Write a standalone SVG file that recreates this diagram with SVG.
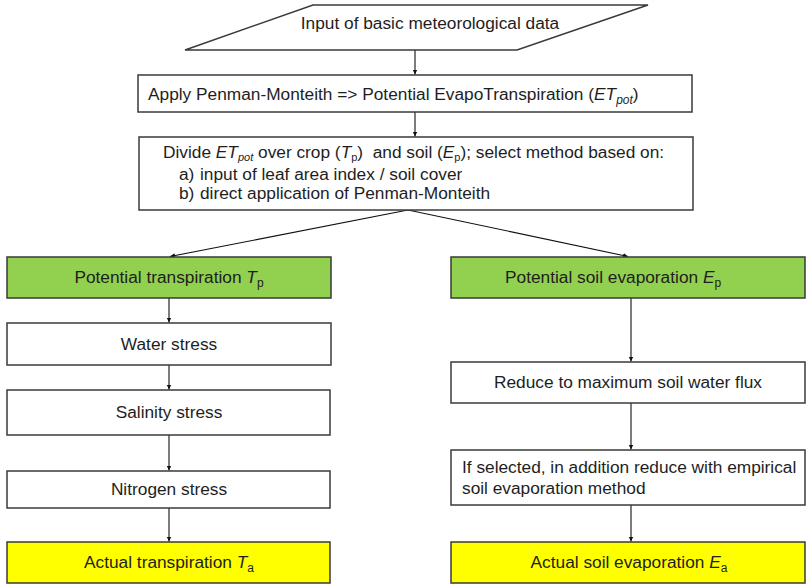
<svg xmlns="http://www.w3.org/2000/svg" width="806" height="585" viewBox="0 0 806 585">
<style>
.box{fill:#fff;stroke:#3a3a3a;stroke-width:1.5}
.green{fill:#92D050;stroke:#3a3a3a;stroke-width:1.5}
.yellow{fill:#FFFF00;stroke:#3a3a3a;stroke-width:1.5}
text{font-family:"Liberation Sans",Arial,sans-serif;font-size:17.3px;fill:#1e1e1e}
.c{text-anchor:middle}
.it{font-style:italic}
.sub{font-size:12px}
.sub2{font-size:11px}
.conn{stroke:#111;stroke-width:1.1;fill:none;marker-end:url(#ah)}
</style>
<defs>
<marker id="ah" markerWidth="6" markerHeight="6" refX="5" refY="3" orient="auto" markerUnits="userSpaceOnUse">
<path d="M0,0.6 L5,3 L0,5.4 Z" fill="#111"/>
</marker>
</defs>
<g id="connectors">
<line class="conn" x1="415" y1="50" x2="415" y2="74.5"/>
<line class="conn" x1="415" y1="112" x2="415" y2="136.5"/>
<line class="conn" x1="408" y1="210" x2="170" y2="256.5"/>
<line class="conn" x1="408" y1="210" x2="628" y2="256.5"/>
<line class="conn" x1="169" y1="298" x2="169" y2="322.5"/>
<line class="conn" x1="169" y1="365" x2="169" y2="389.5"/>
<line class="conn" x1="169" y1="435" x2="169" y2="470.5"/>
<line class="conn" x1="169" y1="508" x2="169" y2="541.5"/>
<line class="conn" x1="631" y1="298" x2="631" y2="361.5"/>
<line class="conn" x1="631" y1="403" x2="631" y2="449.5"/>
<line class="conn" x1="631" y1="505" x2="631" y2="541.5"/>
</g>
<g id="input">
<polygon class="box" points="185,50 313,5 648,5 517,50"/>
<text class="c" x="430" y="29">Input of basic meteorological data</text>
</g>
<g id="penman">
<rect class="box" x="138" y="75" width="554" height="37"/>
<text x="148" y="100">Apply Penman-Monteith =&gt; Potential EvapoTranspiration (<tspan class="it">ET</tspan><tspan class="it sub" dy="4">pot</tspan><tspan dy="-4">)</tspan></text>
</g>
<g id="divide">
<rect class="box" x="139" y="137" width="554" height="73"/>
<text x="163" y="158">Divide <tspan class="it">ET</tspan><tspan class="it sub2" dy="3">pot</tspan><tspan dy="-3"> over crop (</tspan><tspan class="it">T</tspan><tspan class="sub2" dy="3">p</tspan><tspan dy="-3" xml:space="preserve">)  and soil (</tspan><tspan class="it">E</tspan><tspan class="sub2" dy="3">p</tspan><tspan dy="-3">); select method based on:</tspan></text>
<text x="179" y="180">a)</text>
<text x="200" y="180">input of leaf area index / soil cover</text>
<text x="179" y="199">b)</text>
<text x="200" y="199">direct application of Penman-Monteith</text>
</g>
<g id="potTransp">
<rect class="green" x="7" y="257" width="324" height="41"/>
<text class="c" x="169" y="283">Potential transpiration <tspan class="it">T</tspan><tspan class="sub" dy="4">p</tspan></text>
</g>
<g id="water">
<rect class="box" x="7" y="323" width="324" height="42"/>
<text class="c" x="169" y="350">Water stress</text>
</g>
<g id="salinity">
<rect class="box" x="7" y="390" width="323" height="45"/>
<text class="c" x="169" y="418">Salinity stress</text>
</g>
<g id="nitrogen">
<rect class="box" x="7" y="471" width="323" height="37"/>
<text class="c" x="169" y="495">Nitrogen stress</text>
</g>
<g id="actTransp">
<rect class="yellow" x="7" y="542" width="323" height="41"/>
<text class="c" x="169" y="568">Actual transpiration <tspan class="it">T</tspan><tspan class="sub" dy="4">a</tspan></text>
</g>
<g id="potEvap">
<rect class="green" x="451" y="257" width="354" height="41"/>
<text x="505" y="283">Potential soil evaporation <tspan class="it">E</tspan><tspan class="sub" dy="4">p</tspan></text>
</g>
<g id="reduce">
<rect class="box" x="451" y="362" width="354" height="41"/>
<text class="c" x="628" y="388">Reduce to maximum soil water flux</text>
</g>
<g id="empirical">
<rect class="box" x="451" y="450" width="354" height="55"/>
<text x="462" y="473">If selected, in addition reduce with empirical</text>
<text x="462" y="494">soil evaporation method</text>
</g>
<g id="actEvap">
<rect class="yellow" x="451" y="542" width="354" height="41"/>
<text class="c" x="629" y="568">Actual soil evaporation <tspan class="it">E</tspan><tspan class="sub" dy="4">a</tspan></text>
</g>
</svg>
